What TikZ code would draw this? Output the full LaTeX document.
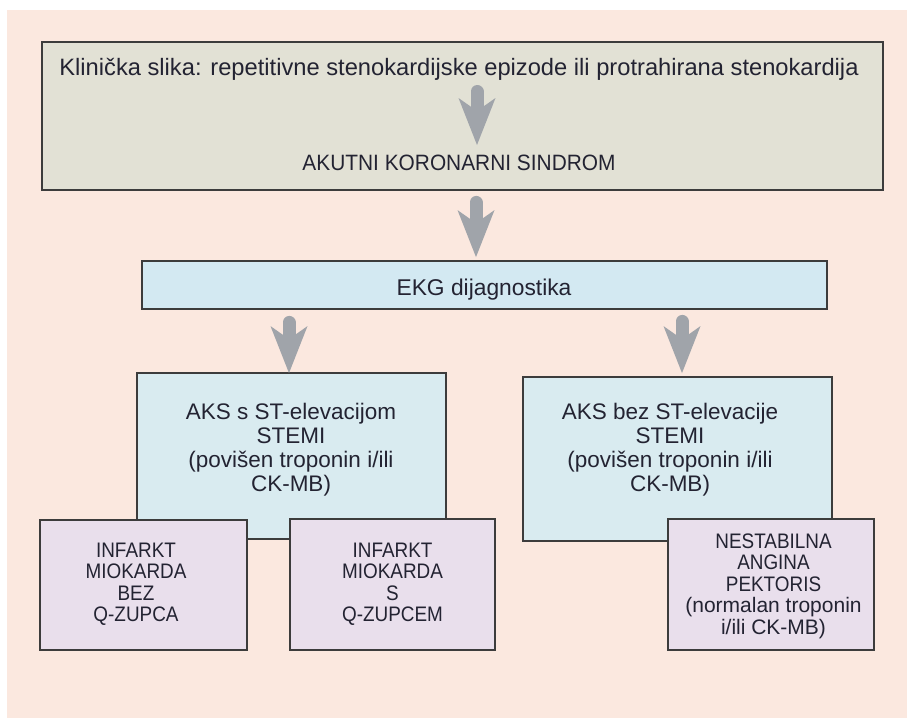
\documentclass[tikz,border=0pt]{standalone}
\usepackage{fontspec}
\setmainfont{Liberation Sans}
\newfontfamily\narrowfont[FakeStretch=0.9]{Liberation Sans}
\newfontfamily\akfont[FakeStretch=0.94]{Liberation Sans}
\usetikzlibrary{arrows.meta}
\definecolor{peach}{RGB}{251,232,223}
\definecolor{topfill}{RGB}{226,225,213}
\definecolor{ekgfill}{RGB}{211,233,242}
\definecolor{bluefill}{RGB}{217,235,240}
\definecolor{purplefill}{RGB}{233,223,236}
\definecolor{bordercol}{RGB}{60,60,60}
\definecolor{arrgray}{RGB}{160,164,170}
\definecolor{txtcol}{RGB}{35,35,50}
\tikzset{
  box/.style={draw=bordercol, line width=1.8pt, inner sep=0pt, rectangle},
  txt/.style={text=txtcol, inner sep=0pt, align=center},
  bigarr/.style={draw=arrgray, line width=13pt, line cap=round,
    -{Stealth[length=47pt,width=37pt,inset=13pt,line width=0pt]}},
}
\begin{document}
\begin{tikzpicture}[x=1pt,y=-1pt]
\useasboundingbox (0,0) rectangle (907,718);
\fill[peach] (7,10) rectangle (907,718);

% boxes
\node[box, fill=topfill, minimum width=841pt, minimum height=148pt] (top) at (462.5,116) {};
\node[box, fill=ekgfill, minimum width=685pt, minimum height=48pt] (ekg) at (484.5,285) {};
\node[box, fill=bluefill, minimum width=309pt, minimum height=166pt] (lb) at (291.5,456) {};
\node[box, fill=bluefill, minimum width=309pt, minimum height=164pt] (rb) at (677.5,459) {};
\node[box, fill=purplefill, minimum width=207pt, minimum height=130pt] (p1) at (143.5,585) {};
\node[box, fill=purplefill, minimum width=205pt, minimum height=131pt] (p2) at (392.5,584.5) {};
\node[box, fill=purplefill, minimum width=206pt, minimum height=131pt] (p3) at (771,584.5) {};

% texts (multi-line nodes: base = last line's baseline)
\node[txt, anchor=base, font=\fontsize{23.7}{26}\selectfont] (klin) at (459,75)
  {Klinička slika: repetitivne stenokardijske epizode ili protrahirana stenokardija};
\node[txt, anchor=base, font=\akfont\fontsize{22.2}{24}\selectfont] (aks) at (459,170)
  {AKUTNI KORONARNI SINDROM};
\node[txt, anchor=base, font=\fontsize{22.8}{24}\selectfont] (ekgt) at (484,295)
  {EKG dijagnostika};
\node[txt, anchor=base, font=\fontsize{22.5}{24}\selectfont] (lbt) at (291,491)
  {AKS s ST-elevacijom\\STEMI\\(povišen troponin i/ili\\CK-MB)};
\node[txt, anchor=base, font=\fontsize{22.5}{24}\selectfont] (rbt) at (670,491)
  {AKS bez ST-elevacije\\STEMI\\(povišen troponin i/ili\\CK-MB)};
\node[txt, anchor=base, font=\narrowfont\fontsize{21}{21.5}\selectfont] (p1t) at (136,621.5)
  {INFARKT\\MIOKARDA\\BEZ\\Q-ZUPCA};
\node[txt, anchor=base, font=\narrowfont\fontsize{21}{21.5}\selectfont] (p2t) at (392.5,621.5)
  {INFARKT\\MIOKARDA\\S\\Q-ZUPCEM};
\node[txt, anchor=base, font=\fontsize{21}{21.5}\selectfont] (p3t) at (773.5,634)
  {{\narrowfont NESTABILNA}\\{\narrowfont ANGINA}\\{\narrowfont PEKTORIS}\\(normalan troponin\\i/ili CK-MB)};

% arrows
\draw[bigarr] ([xshift=18pt,yshift=-16.5pt]klin.base) -- ([xshift=18pt,yshift=25pt]aks.base);
\draw[bigarr] ([xshift=13.5pt,yshift=-11.5pt]top.south) -- ([xshift=-8.5pt,yshift=3pt]ekg.north);
\draw[bigarr] ([xshift=-195.5pt,yshift=-12.5pt]ekg.south) -- ([xshift=-2.5pt,yshift=-1pt]lb.north);
\draw[bigarr] ([xshift=197.5pt,yshift=-11.5pt]ekg.south) -- ([xshift=4.5pt,yshift=3pt]rb.north);
\end{tikzpicture}
\end{document}
